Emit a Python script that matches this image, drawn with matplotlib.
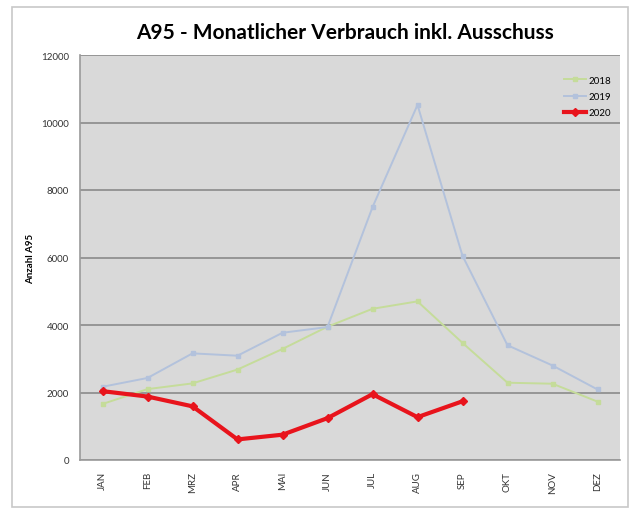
import numpy as np
import matplotlib
matplotlib.use("Agg")
import matplotlib.pyplot as plt
from matplotlib.patches import Rectangle

months = ["JAN", "FEB", "MRZ", "APR", "MAI", "JUN", "JUL", "AUG", "SEP", "OKT", "NOV", "DEZ"]
y2018 = [1660, 2100, 2270, 2680, 3290, 3950, 4480, 4700, 3470, 2290, 2260, 1730]
y2019 = [2170, 2430, 3160, 3090, 3770, 3940, 7490, 10520, 6050, 3400, 2800, 2090]
y2020 = [2040, 1880, 1590, 610, 750, 1240, 1950, 1270, 1740]
yticks = [0, 2000, 4000, 6000, 8000, 10000, 12000]

plt.rcParams['font.family'] = ['Lato', 'DejaVu Sans']

fig = plt.figure(figsize=(6.3, 5.1), dpi=100)
fig.patches.append(Rectangle((12 / 630, 2 / 510), 616 / 630, 500 / 510, transform=fig.transFigure,
                             fill=False, edgecolor="#c8c8c8", linewidth=1.2))

ax = fig.add_axes([80 / 630, 1 - 461 / 510, 540 / 630, 405 / 510])
ax.set_facecolor("#d9d9d9")

x = np.arange(len(months)) + 0.5
ax.plot(x, y2018, color="#c5dc9a", lw=1.4, marker="s", ms=3, label="2018", zorder=3)
ax.plot(x, y2019, color="#b3c2dc", lw=1.4, marker="s", ms=3, label="2019", zorder=3)
ax.plot(x[:len(y2020)], y2020, color="#e8141c", lw=3, marker="D", ms=4.5, label="2020", zorder=4)

ax.set_xlim(0, 12)
ax.set_ylim(0, 12000)
ax.set_yticks(yticks)
ax.set_yticklabels([str(v) for v in yticks], fontsize=7, color="#333333")
ax.set_xticks(x)
ax.set_xticklabels(months, rotation=90, fontsize=7, color="#333333")
ax.tick_params(length=0, pad=8)
ax.yaxis.grid(True, color="#8a8a8a", lw=1.2)
ax.set_axisbelow(True)
for s in ["top", "right"]:
    ax.spines[s].set_visible(False)
for s in ["left", "bottom"]:
    ax.spines[s].set_color("#9a9a9a")
    ax.spines[s].set_linewidth(1.2)

ax.set_ylabel("Anzahl A95", fontsize=7, fontweight="bold", labelpad=4)
fig.text(0.548, 1 - 33 / 510, "A95 - Monatlicher Verbrauch inkl. Ausschuss",
         ha="center", va="center", fontsize=15, fontweight="bold")

leg = ax.legend(loc="upper right", bbox_to_anchor=(1.0, 0.97), frameon=False, fontsize=7,
                handlelength=2.2, labelspacing=0.75, handletextpad=0.3)

fig.savefig("out.png", dpi=100)
